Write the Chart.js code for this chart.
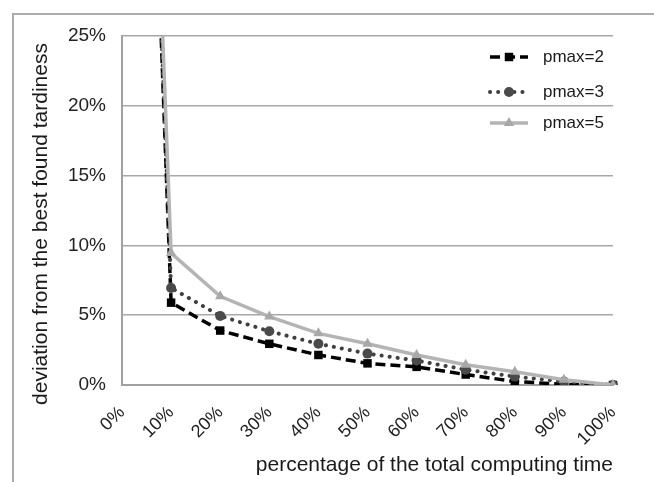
<!DOCTYPE html>
<html>
<head>
<meta charset="utf-8">
<script src="https://cdn.jsdelivr.net/npm/chart.js@4.4.0/dist/chart.umd.min.js"></script>
<style>
    html, body { margin: 0; padding: 0; background: #fff; overflow: hidden; }
    #wrap { position: relative; width: 654px; height: 482px; overflow: hidden; }
    #frame { position: absolute; left: 12px; top: 13px; width: 700px; height: 520px; border: 2px solid #acacac; }
    #chart { position: absolute; left: 0; top: 0; }
</style>
</head>
<body>
<div id="wrap">
    <div id="frame"></div>
    <canvas id="chart" width="654" height="482" style="width:654px;height:482px"></canvas>
</div>
<script>
// percentage of total computing time (x categories)
const timeLabels = ['0%', '10%', '20%', '30%', '40%', '50%', '60%', '70%', '80%', '90%', '100%'];

// deviation from best found tardiness, in %
const pmax2 = [100, 5.9, 3.9, 2.95, 2.15, 1.55, 1.3, 0.75, 0.25, 0.05, 0];
const pmax3 = [100, 6.95, 4.95, 3.85, 2.95, 2.25, 1.75, 1.1, 0.6, 0.25, 0];
const pmax5 = [100, 9.45, 6.35, 4.9, 3.7, 2.95, 2.15, 1.45, 0.95, 0.38, 0];

const seriesNames = ['pmax=2', 'pmax=3', 'pmax=5'];
const yTicks = [0, 5, 10, 15, 20, 25];
const yTitle = 'deviation from the best found tardiness';

const FONT = "'Liberation Sans', Arial, sans-serif";

// petit helper pour dessiner les marqueurs dans la légende
function drawMarker(ctx, style, x, y, r, color) {
    ctx.save();
    ctx.fillStyle = color;
    ctx.setLineDash([]);
    ctx.beginPath();
    if (style === 'rect') {
        const s = Math.SQRT1_2 * r;
        ctx.rect(x - s, y - s, 2 * s, 2 * s);
    } else if (style === 'triangle') {
        let a = 0;
        ctx.moveTo(x + Math.sin(a) * r, y - Math.cos(a) * r);
        a += 2 * Math.PI / 3;
        ctx.lineTo(x + Math.sin(a) * r, y - Math.cos(a) * r);
        a += 2 * Math.PI / 3;
        ctx.lineTo(x + Math.sin(a) * r, y - Math.cos(a) * r);
        ctx.closePath();
    } else {
        ctx.arc(x, y, r, 0, Math.PI * 2);
    }
    ctx.fill();
    ctx.restore();
}

// Légende dessinée à la main (trait + marqueur comme Excel) + titre vertical
const insideLegend = {
    id: 'insideLegend',
    afterDraw(chart) {
        const ctx = chart.ctx;
        const x0 = 490, x1 = 528, xt = 543;
        const rows = [57, 92, 123];
        chart.data.datasets.forEach((ds, i) => {
            const y = rows[i];
            ctx.save();
            ctx.strokeStyle = ds.borderColor;
            ctx.lineWidth = ds.borderWidth;
            ctx.lineCap = ds.borderCapStyle || 'butt';
            ctx.setLineDash(ds.borderDash || []);
            ctx.beginPath();
            ctx.moveTo(x0, y);
            ctx.lineTo(x1, y);
            ctx.stroke();
            ctx.restore();
            drawMarker(ctx, ds.pointStyle, (x0 + x1) / 2, y, ds.pointRadius, ds.pointBackgroundColor);
            ctx.save();
            ctx.fillStyle = '#1a1a1a';
            ctx.font = '17px ' + FONT;
            ctx.textBaseline = 'middle';
            ctx.textAlign = 'left';
            ctx.fillText(ds.label, xt, y);
            ctx.restore();
        });

        // titre de l'axe Y, un peu plus bas que le centre comme dans l'original
        ctx.save();
        ctx.translate(41, 224);
        ctx.rotate(-Math.PI / 2);
        ctx.fillStyle = '#1a1a1a';
        ctx.font = '21px ' + FONT;
        ctx.textAlign = 'center';
        ctx.textBaseline = 'middle';
        ctx.fillText(yTitle, 0, 0);
        ctx.restore();
    }
};

new Chart(document.getElementById('chart').getContext('2d'), {
    type: 'line',
    data: {
        labels: timeLabels,
        datasets: [
            {
                label: seriesNames[0],
                data: pmax2,
                borderColor: '#000000',
                borderWidth: 3.5,
                borderDash: [10, 5],
                pointStyle: 'rect',
                pointRadius: 6,
                pointBackgroundColor: '#000000',
                pointBorderWidth: 0,
                order: 2
            },
            {
                label: seriesNames[1],
                data: pmax3,
                borderColor: '#404040',
                borderWidth: 4,
                borderDash: [0.1, 8],
                borderCapStyle: 'round',
                pointStyle: 'circle',
                pointRadius: 5,
                pointBackgroundColor: '#4a4a4a',
                pointBorderWidth: 0,
                order: 1
            },
            {
                label: seriesNames[2],
                data: pmax5,
                borderColor: '#b4b4b4',
                borderWidth: 3.5,
                pointStyle: 'triangle',
                pointRadius: 6,
                pointBackgroundColor: '#a8a8a8',
                pointBorderWidth: 0,
                order: 0
            }
        ]
    },
    options: {
        responsive: false,
        animation: false,
        devicePixelRatio: 1,
        layout: { padding: { left: 14, top: 36, right: 41, bottom: 0 } },
        plugins: {
            legend: { display: false },
            tooltip: { enabled: false }
        },
        scales: {
            x: {
                offset: false,
                grid: { display: false, drawTicks: false },
                border: { display: true, color: '#a0a0a0', width: 2 },
                ticks: {
                    color: '#222',
                    font: { family: FONT, size: 18 },
                    minRotation: 45,
                    maxRotation: 45,
                    autoSkip: false,
                    padding: 17
                },
                title: {
                    display: true,
                    align: 'end',
                    text: 'percentage of the total computing time',
                    color: '#1a1a1a',
                    font: { family: FONT, size: 21 },
                    padding: { top: 0, bottom: 4 }
                },
                afterFit(scale) { scale.height = 97; }
            },
            y: {
                min: 0,
                max: 25,
                afterBuildTicks(scale) { scale.ticks = yTicks.map(v => ({ value: v })); },
                grid: { color: '#a8a8a8', lineWidth: 1.5, drawTicks: false },
                border: { display: true, color: '#a0a0a0', width: 2 },
                ticks: {
                    color: '#222',
                    font: { family: FONT, size: 19 },
                    padding: 16,
                    callback: v => v + '%'
                },
                title: { display: false },
                afterFit(scale) { scale.width = 108; }
            }
        }
    },
    plugins: [insideLegend]
});
</script>
</body>
</html>
